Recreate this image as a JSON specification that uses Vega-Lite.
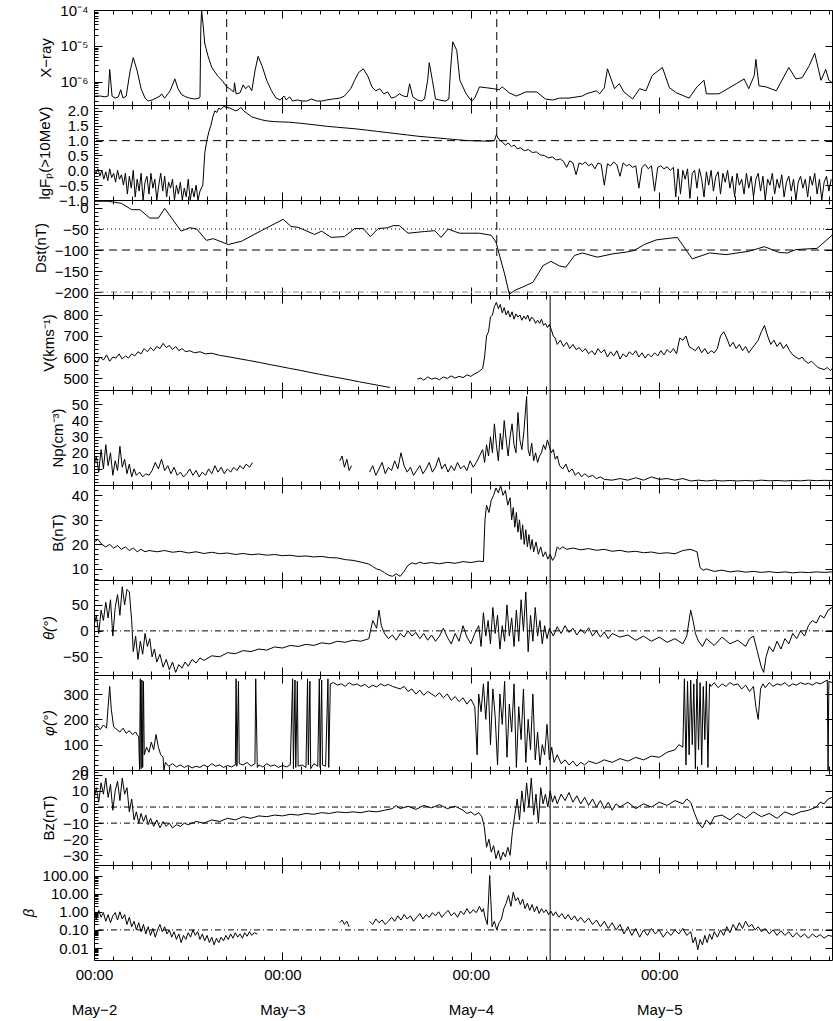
{
"$schema":"https://vega.github.io/schema/vega-lite/v6.json",
"padding":{"left":20,"top":2,"right":0,"bottom":0},
"bounds":"flush",
"config":{"view":{"stroke":"black","strokeWidth":1},
"axis":{"labelFont":"Liberation Sans","labelFontSize":15,"labelColor":"black","titleFont":"Liberation Sans","titleFontSize":15,"titleFontWeight":"normal","titleColor":"black","tickColor":"black","grid":false,"domain":false,"labelOverlap":false,"labelBound":false,"labelFlush":false,"labelPadding":14,"titlePadding":6,"minExtent":0},
"axisX":{"minExtent":0,"maxExtent":0},
"concat":{"spacing":0}},
"spacing":0,
"datasets":{
"ev":[{"t":16.9,"k":"a"},{"t":51.3,"k":"a"},{"t":58.1,"k":"b"}],
"one":[{}],
"xray":[{"t":0,"v":4e-7},{"t":0.8,"v":4e-7},{"t":1.4,"v":3.8e-7},{"t":1.8,"v":4e-7},{"t":2.0,"v":2.2e-6},{"t":2.3,"v":4e-7},{"t":2.7,"v":3.5e-7},{"t":3.1,"v":3.8e-7},{"t":3.4,"v":6e-7},{"t":3.7,"v":3.5e-7},{"t":4.1,"v":4e-7},{"t":4.6,"v":2e-6},{"t":5.0,"v":4.7e-6},{"t":5.5,"v":2e-6},{"t":6.0,"v":6.4e-7},{"t":6.5,"v":3.5e-7},{"t":6.9,"v":2.9e-7},{"t":7.4,"v":3.1e-7},{"t":7.9,"v":3.5e-7},{"t":8.4,"v":4e-7},{"t":8.6,"v":4.6e-7},{"t":9.0,"v":3.5e-7},{"t":9.7,"v":5.6e-7},{"t":10.3,"v":1.2e-6},{"t":10.7,"v":6.4e-7},{"t":11.2,"v":4.3e-7},{"t":11.7,"v":3.8e-7},{"t":12.2,"v":3.5e-7},{"t":12.8,"v":3.3e-7},{"t":13.4,"v":3.5e-7},{"t":13.5,"v":3.8e-7},{"t":13.6,"v":2.7e-5},{"t":13.7,"v":1e-4},{"t":13.9,"v":3.8e-5},{"t":14.1,"v":1.2e-5},{"t":14.5,"v":5.4e-6},{"t":15.0,"v":2.5e-6},{"t":15.8,"v":1.4e-6},{"t":16.3,"v":1.1e-6},{"t":16.9,"v":7.2e-7},{"t":17.3,"v":6.4e-7},{"t":17.8,"v":5.2e-7},{"t":17.9,"v":9.4e-7},{"t":18.1,"v":4.6e-7},{"t":18.6,"v":4.9e-7},{"t":19.0,"v":8.2e-7},{"t":19.3,"v":6.4e-7},{"t":19.7,"v":7.7e-7},{"t":20.1,"v":5.6e-7},{"t":20.5,"v":2e-6},{"t":20.9,"v":5.1e-6},{"t":21.4,"v":2.8e-6},{"t":22.0,"v":1.1e-6},{"t":22.6,"v":5.6e-7},{"t":23.2,"v":3.5e-7},{"t":23.7,"v":3.1e-7},{"t":24.2,"v":4e-7},{"t":24.5,"v":3.1e-7},{"t":24.9,"v":3.8e-7},{"t":25.3,"v":2.9e-7},{"t":25.9,"v":3.1e-7},{"t":26.5,"v":2.9e-7},{"t":27.1,"v":2.9e-7},{"t":27.7,"v":3.3e-7},{"t":28.4,"v":2.9e-7},{"t":29.0,"v":2.9e-7},{"t":29.6,"v":3.1e-7},{"t":30.4,"v":3.3e-7},{"t":31.3,"v":3.5e-7},{"t":31.9,"v":4e-7},{"t":32.7,"v":6.4e-7},{"t":33.2,"v":1.1e-6},{"t":33.7,"v":1.8e-6},{"t":34.3,"v":2.3e-6},{"t":34.9,"v":1.4e-6},{"t":35.4,"v":7.2e-7},{"t":35.9,"v":5.6e-7},{"t":36.4,"v":6.4e-7},{"t":36.9,"v":4.6e-7},{"t":37.4,"v":5.2e-7},{"t":37.9,"v":3.5e-7},{"t":38.4,"v":3.8e-7},{"t":38.9,"v":4.6e-7},{"t":39.4,"v":4e-7},{"t":39.9,"v":3.8e-7},{"t":40.2,"v":8.8e-7},{"t":40.6,"v":3.8e-7},{"t":41.2,"v":3.1e-7},{"t":41.7,"v":2.9e-7},{"t":42.1,"v":3.3e-7},{"t":42.5,"v":1.1e-6},{"t":42.7,"v":3.4e-6},{"t":43.1,"v":1.1e-6},{"t":43.5,"v":3.3e-7},{"t":44.0,"v":3.1e-7},{"t":44.8,"v":2.9e-7},{"t":45.2,"v":3.3e-7},{"t":45.4,"v":2e-6},{"t":45.7,"v":1.3e-5},{"t":46.2,"v":7.5e-6},{"t":46.6,"v":1.1e-6},{"t":47.4,"v":4.6e-7},{"t":48.1,"v":2.9e-7},{"t":48.5,"v":3.5e-7},{"t":49.1,"v":7.2e-7},{"t":50.0,"v":6.8e-7},{"t":50.9,"v":6.4e-7},{"t":51.6,"v":6e-7},{"t":52.0,"v":7.2e-7},{"t":52.9,"v":4.9e-7},{"t":53.8,"v":4e-7},{"t":55.0,"v":5.2e-7},{"t":56.4,"v":5.2e-7},{"t":57.5,"v":3.3e-7},{"t":58.4,"v":3.1e-7},{"t":59.3,"v":3.5e-7},{"t":60.5,"v":3.5e-7},{"t":62.2,"v":4e-7},{"t":62.7,"v":4.6e-7},{"t":64.0,"v":5.6e-7},{"t":64.4,"v":4.6e-7},{"t":65.0,"v":6.8e-7},{"t":65.4,"v":2.3e-6},{"t":66.3,"v":6.4e-7},{"t":66.9,"v":8.8e-7},{"t":67.5,"v":5.2e-7},{"t":68.6,"v":3.3e-7},{"t":69.5,"v":6.4e-7},{"t":70.3,"v":5.6e-7},{"t":71.1,"v":1.5e-6},{"t":72.4,"v":2.5e-6},{"t":73.3,"v":6.8e-7},{"t":74.2,"v":4.9e-7},{"t":75.8,"v":3.5e-7},{"t":76.8,"v":7.2e-7},{"t":77.7,"v":1.1e-6},{"t":78.0,"v":4.6e-7},{"t":79.6,"v":4.6e-7},{"t":81.8,"v":8.8e-7},{"t":82.8,"v":1.2e-6},{"t":83.4,"v":6.4e-7},{"t":84.1,"v":1.5e-6},{"t":84.3,"v":4.2e-6},{"t":84.7,"v":7.7e-7},{"t":85.6,"v":7.2e-7},{"t":86.9,"v":5.6e-7},{"t":88.5,"v":2.5e-6},{"t":89.4,"v":1.2e-6},{"t":90.2,"v":1.3e-6},{"t":91.1,"v":2.8e-6},{"t":91.8,"v":6.2e-6},{"t":92.6,"v":1.1e-6},{"t":93.2,"v":2.2e-6},{"t":93.6,"v":1.1e-6},{"t":94.0,"v":9.4e-7}],
"prot":[{"t":0,"v":0.0},{"t":0.25,"v":-0.1},{"t":0.5,"v":0.05},{"t":0.75,"v":-0.2},{"t":1.0,"v":0.0},{"t":1.25,"v":-0.3},{"t":1.5,"v":-0.05},{"t":1.75,"v":-0.35},{"t":2.0,"v":0.05},{"t":2.25,"v":-0.25},{"t":2.5,"v":-0.1},{"t":2.75,"v":-0.4},{"t":3.0,"v":0.0},{"t":3.25,"v":-0.3},{"t":3.5,"v":-0.15},{"t":3.75,"v":-0.5},{"t":4.0,"v":-0.1},{"t":4.25,"v":-0.8},{"t":4.5,"v":-0.2},{"t":4.75,"v":-0.6},{"t":5.0,"v":0.0},{"t":5.25,"v":-0.9},{"t":5.5,"v":-0.3},{"t":5.75,"v":-0.7},{"t":6.0,"v":-0.1},{"t":6.25,"v":-1.0},{"t":6.5,"v":-0.4},{"t":6.75,"v":-0.2},{"t":7.0,"v":-0.8},{"t":7.25,"v":-0.1},{"t":7.5,"v":-0.6},{"t":7.75,"v":-0.3},{"t":8.0,"v":-1.0},{"t":8.25,"v":-0.5},{"t":8.5,"v":-0.1},{"t":8.75,"v":-0.7},{"t":9.0,"v":-0.2},{"t":9.25,"v":-0.9},{"t":9.5,"v":-0.4},{"t":9.75,"v":-0.6},{"t":10.0,"v":-0.3},{"t":10.25,"v":-1.0},{"t":10.5,"v":-0.5},{"t":10.75,"v":-0.8},{"t":11.0,"v":-0.4},{"t":11.25,"v":-1.0},{"t":11.5,"v":-0.6},{"t":11.75,"v":-0.9},{"t":12.0,"v":-0.3},{"t":12.25,"v":-1.0},{"t":12.5,"v":-0.6},{"t":12.75,"v":-0.9},{"t":13.0,"v":-0.5},{"t":13.25,"v":-1.0},{"t":13.5,"v":-0.7},{"t":13.86,"v":-0.5},{"t":14.12,"v":0.6},{"t":14.37,"v":1.0},{"t":14.63,"v":1.3},{"t":14.88,"v":1.5},{"t":15.14,"v":1.8},{"t":15.39,"v":2.0},{"t":15.65,"v":1.95},{"t":15.9,"v":2.1},{"t":16.15,"v":2.05},{"t":16.54,"v":2.15},{"t":16.92,"v":2.12},{"t":17.3,"v":2.1},{"t":17.68,"v":2.05},{"t":18.06,"v":2.0},{"t":18.44,"v":2.05},{"t":18.7,"v":2.12},{"t":19.08,"v":2.0},{"t":19.59,"v":1.9},{"t":20.1,"v":1.8},{"t":20.61,"v":1.76},{"t":21.37,"v":1.7},{"t":22.13,"v":1.66},{"t":23.02,"v":1.64},{"t":23.91,"v":1.63},{"t":24.93,"v":1.62},{"t":25.69,"v":1.6},{"t":26.46,"v":1.58},{"t":27.48,"v":1.55},{"t":28.49,"v":1.52},{"t":29.76,"v":1.48},{"t":31.04,"v":1.45},{"t":32.31,"v":1.42},{"t":33.58,"v":1.39},{"t":34.85,"v":1.35},{"t":36.12,"v":1.31},{"t":37.4,"v":1.27},{"t":38.67,"v":1.23},{"t":39.94,"v":1.19},{"t":41.21,"v":1.15},{"t":42.48,"v":1.12},{"t":43.76,"v":1.09},{"t":45.03,"v":1.06},{"t":46.3,"v":1.03},{"t":47.57,"v":1.0},{"t":49.1,"v":0.99},{"t":50.37,"v":0.98},{"t":51.0,"v":1.0},{"t":51.26,"v":1.2},{"t":51.52,"v":1.05},{"t":52.02,"v":0.95},{"t":52.4,"v":0.85},{"t":52.78,"v":0.92},{"t":53.16,"v":0.8},{"t":53.54,"v":0.85},{"t":53.93,"v":0.72},{"t":54.31,"v":0.76},{"t":54.82,"v":0.66},{"t":55.32,"v":0.7},{"t":55.83,"v":0.6},{"t":56.34,"v":0.62},{"t":56.85,"v":0.52},{"t":57.36,"v":0.5},{"t":57.87,"v":0.42},{"t":58.38,"v":0.45},{"t":58.89,"v":0.35},{"t":59.4,"v":0.38},{"t":59.8,"v":0.3},{"t":60.2,"v":0.1},{"t":60.6,"v":0.32},{"t":61.0,"v":0.25},{"t":61.4,"v":-0.15},{"t":61.8,"v":0.25},{"t":62.2,"v":0.2},{"t":62.6,"v":0.28},{"t":63.0,"v":0.15},{"t":63.4,"v":0.22},{"t":63.8,"v":0.05},{"t":64.2,"v":0.25},{"t":64.6,"v":0.2},{"t":65.0,"v":-0.5},{"t":65.4,"v":0.22},{"t":65.8,"v":0.15},{"t":66.2,"v":0.28},{"t":66.6,"v":0.18},{"t":67.0,"v":-0.2},{"t":67.4,"v":0.25},{"t":67.8,"v":0.15},{"t":68.2,"v":0.2},{"t":68.6,"v":0.1},{"t":69.0,"v":0.15},{"t":69.4,"v":-0.6},{"t":69.8,"v":0.1},{"t":70.2,"v":0.2},{"t":70.6,"v":0.05},{"t":71.0,"v":0.15},{"t":71.4,"v":-0.7},{"t":71.8,"v":0.1},{"t":72.2,"v":0.15},{"t":72.6,"v":0.05},{"t":73.0,"v":0.12},{"t":73.4,"v":0.0},{"t":73.8,"v":0.1},{"t":74.1,"v":-0.9},{"t":74.4,"v":0.05},{"t":74.7,"v":-0.8},{"t":75.0,"v":0.0},{"t":75.3,"v":-0.3},{"t":75.6,"v":0.05},{"t":75.9,"v":-0.95},{"t":76.2,"v":-0.1},{"t":76.5,"v":0.0},{"t":76.8,"v":-0.6},{"t":77.1,"v":0.05},{"t":77.4,"v":-0.3},{"t":77.7,"v":-0.9},{"t":78.0,"v":-0.05},{"t":78.3,"v":-0.5},{"t":78.6,"v":0.0},{"t":78.9,"v":-0.7},{"t":79.2,"v":-0.2},{"t":79.5,"v":-0.05},{"t":79.8,"v":-0.8},{"t":80.1,"v":-0.1},{"t":80.4,"v":-0.4},{"t":80.7,"v":0.0},{"t":81.0,"v":-0.6},{"t":81.3,"v":-0.2},{"t":81.6,"v":-0.9},{"t":81.9,"v":-0.1},{"t":82.2,"v":-0.5},{"t":82.5,"v":-0.3},{"t":82.8,"v":-0.8},{"t":83.1,"v":-0.1},{"t":83.4,"v":-0.6},{"t":83.7,"v":-0.2},{"t":84.0,"v":-0.9},{"t":84.3,"v":-0.3},{"t":84.6,"v":-0.1},{"t":84.9,"v":-0.7},{"t":85.2,"v":-0.2},{"t":85.5,"v":-1.0},{"t":85.8,"v":-0.3},{"t":86.1,"v":-0.5},{"t":86.4,"v":-0.1},{"t":86.7,"v":-0.8},{"t":87.0,"v":-0.3},{"t":87.3,"v":-0.6},{"t":87.6,"v":-0.15},{"t":87.9,"v":-0.9},{"t":88.2,"v":-0.4},{"t":88.5,"v":-0.2},{"t":88.8,"v":-0.7},{"t":89.1,"v":-0.3},{"t":89.4,"v":-1.0},{"t":89.7,"v":-0.4},{"t":90.0,"v":-0.2},{"t":90.3,"v":-0.6},{"t":90.6,"v":-0.3},{"t":90.9,"v":-0.9},{"t":91.2,"v":-0.2},{"t":91.5,"v":-0.5},{"t":91.8,"v":-0.1},{"t":92.1,"v":-0.8},{"t":92.4,"v":-0.3},{"t":92.7,"v":-1.0},{"t":93.0,"v":-0.4},{"t":93.3,"v":-0.2},{"t":93.6,"v":-0.7},{"t":93.9,"v":-0.3}],
"dst":[{"t":0,"v":16},{"t":1.8,"v":16},{"t":3.5,"v":11},{"t":4.8,"v":-4},{"t":5.85,"v":-4},{"t":7.1,"v":-24},{"t":8.2,"v":-24},{"t":9.0,"v":-1},{"t":11.1,"v":-55},{"t":12.2,"v":-47},{"t":13.1,"v":-50},{"t":14.3,"v":-77},{"t":15.2,"v":-73},{"t":17.1,"v":-87},{"t":18.8,"v":-79},{"t":21.3,"v":-54},{"t":24.1,"v":-27},{"t":25.1,"v":-44},{"t":26.0,"v":-46},{"t":28.1,"v":-63},{"t":29.0,"v":-55},{"t":30.2,"v":-70},{"t":31.9,"v":-68},{"t":33.2,"v":-49},{"t":34.3,"v":-49},{"t":35.2,"v":-68},{"t":36.2,"v":-49},{"t":37.4,"v":-47},{"t":38.1,"v":-42},{"t":38.9,"v":-42},{"t":40.0,"v":-60},{"t":42.1,"v":-56},{"t":43.4,"v":-54},{"t":44.2,"v":-70},{"t":45.1,"v":-50},{"t":46.1,"v":-57},{"t":46.6,"v":-60},{"t":49.1,"v":-60},{"t":50.6,"v":-65},{"t":51.2,"v":-81},{"t":51.6,"v":-109},{"t":52.3,"v":-157},{"t":52.9,"v":-205},{"t":53.6,"v":-196},{"t":54.6,"v":-188},{"t":55.9,"v":-177},{"t":57.2,"v":-137},{"t":58.2,"v":-127},{"t":59.3,"v":-138},{"t":60.1,"v":-141},{"t":61.2,"v":-113},{"t":62.2,"v":-107},{"t":64.1,"v":-117},{"t":66.1,"v":-109},{"t":67.8,"v":-105},{"t":68.8,"v":-101},{"t":70.1,"v":-87},{"t":71.6,"v":-76},{"t":73.3,"v":-72},{"t":74.3,"v":-70},{"t":76.2,"v":-121},{"t":78.4,"v":-107},{"t":80.5,"v":-111},{"t":83.4,"v":-103},{"t":85.4,"v":-92},{"t":87.3,"v":-106},{"t":88.3,"v":-107},{"t":89.4,"v":-99},{"t":92.1,"v":-96},{"t":94.0,"v":-65}],
"vel":[{"s":1,"t":0,"v":590},{"s":1,"t":0.4,"v":575},{"s":1,"t":0.8,"v":600},{"s":1,"t":1.2,"v":585},{"s":1,"t":1.6,"v":610},{"s":1,"t":2.0,"v":580},{"s":1,"t":2.4,"v":600},{"s":1,"t":2.8,"v":595},{"s":1,"t":3.2,"v":615},{"s":1,"t":3.6,"v":590},{"s":1,"t":4.0,"v":605},{"s":1,"t":4.4,"v":595},{"s":1,"t":4.8,"v":615},{"s":1,"t":5.2,"v":605},{"s":1,"t":5.6,"v":625},{"s":1,"t":6.0,"v":615},{"s":1,"t":6.4,"v":640},{"s":1,"t":6.8,"v":625},{"s":1,"t":7.2,"v":645},{"s":1,"t":7.6,"v":630},{"s":1,"t":8.0,"v":650},{"s":1,"t":8.4,"v":640},{"s":1,"t":8.8,"v":665},{"s":1,"t":9.2,"v":645},{"s":1,"t":9.6,"v":655},{"s":1,"t":10.0,"v":635},{"s":1,"t":10.4,"v":650},{"s":1,"t":10.8,"v":630},{"s":1,"t":11.2,"v":640},{"s":1,"t":11.7,"v":625},{"s":1,"t":12.2,"v":630},{"s":1,"t":12.8,"v":620},{"s":1,"t":13.5,"v":625},{"s":1,"t":14.2,"v":615},{"s":1,"t":15.0,"v":618},{"s":1,"t":16.0,"v":608},{"s":1,"t":17.3,"v":600},{"s":1,"t":18.6,"v":591},{"s":1,"t":19.8,"v":583},{"s":1,"t":21.1,"v":574},{"s":1,"t":22.4,"v":564},{"s":1,"t":23.7,"v":555},{"s":1,"t":24.9,"v":546},{"s":1,"t":26.2,"v":537},{"s":1,"t":27.5,"v":527},{"s":1,"t":28.7,"v":518},{"s":1,"t":30.0,"v":509},{"s":1,"t":31.3,"v":500},{"s":1,"t":32.6,"v":491},{"s":1,"t":33.8,"v":482},{"s":1,"t":35.1,"v":473},{"s":1,"t":36.4,"v":464},{"s":1,"t":37.7,"v":455},
{"s":2,"t":41.2,"v":495},{"s":2,"t":41.6,"v":500},{"s":2,"t":42.0,"v":490},{"s":2,"t":42.5,"v":505},{"s":2,"t":43.0,"v":495},{"s":2,"t":43.5,"v":500},{"s":2,"t":44.0,"v":492},{"s":2,"t":44.5,"v":505},{"s":2,"t":45.0,"v":498},{"s":2,"t":45.5,"v":510},{"s":2,"t":46.0,"v":500},{"s":2,"t":46.5,"v":508},{"s":2,"t":47.0,"v":502},{"s":2,"t":47.5,"v":515},{"s":2,"t":48.0,"v":508},{"s":2,"t":48.5,"v":520},{"s":2,"t":49.0,"v":530},{"s":2,"t":49.5,"v":545},{"s":2,"t":49.75,"v":600},{"s":2,"t":50.0,"v":700},{"s":2,"t":50.25,"v":720},{"s":2,"t":50.5,"v":790},{"s":2,"t":50.75,"v":800},{"s":2,"t":51.0,"v":840},{"s":2,"t":51.25,"v":860},{"s":2,"t":51.5,"v":830},{"s":2,"t":51.75,"v":850},{"s":2,"t":52.0,"v":810},{"s":2,"t":52.25,"v":835},{"s":2,"t":52.5,"v":800},{"s":2,"t":52.75,"v":820},{"s":2,"t":53.0,"v":790},{"s":2,"t":53.25,"v":815},{"s":2,"t":53.5,"v":780},{"s":2,"t":53.75,"v":805},{"s":2,"t":54.0,"v":790},{"s":2,"t":54.25,"v":800},{"s":2,"t":54.5,"v":775},{"s":2,"t":54.75,"v":795},{"s":2,"t":55.0,"v":780},{"s":2,"t":55.25,"v":800},{"s":2,"t":55.5,"v":770},{"s":2,"t":55.75,"v":790},{"s":2,"t":56.0,"v":780},{"s":2,"t":56.25,"v":760},{"s":2,"t":56.5,"v":775},{"s":2,"t":56.75,"v":760},{"s":2,"t":57.0,"v":780},{"s":2,"t":57.25,"v":750},{"s":2,"t":57.5,"v":760},{"s":2,"t":57.75,"v":740},{"s":2,"t":58.0,"v":755},{"s":2,"t":58.25,"v":730},{"s":2,"t":58.5,"v":700},{"s":2,"t":58.75,"v":690},{"s":2,"t":59.0,"v":660},{"s":2,"t":59.4,"v":680},{"s":2,"t":59.8,"v":650},{"s":2,"t":60.2,"v":670},{"s":2,"t":60.6,"v":640},{"s":2,"t":61.0,"v":660},{"s":2,"t":61.4,"v":635},{"s":2,"t":61.8,"v":645},{"s":2,"t":62.2,"v":625},{"s":2,"t":62.6,"v":640},{"s":2,"t":63.0,"v":615},{"s":2,"t":63.4,"v":630},{"s":2,"t":63.8,"v":610},{"s":2,"t":64.2,"v":640},{"s":2,"t":64.6,"v":620},{"s":2,"t":65.0,"v":635},{"s":2,"t":65.4,"v":600},{"s":2,"t":65.8,"v":625},{"s":2,"t":66.2,"v":605},{"s":2,"t":66.6,"v":630},{"s":2,"t":67.0,"v":590},{"s":2,"t":67.4,"v":615},{"s":2,"t":67.8,"v":600},{"s":2,"t":68.2,"v":625},{"s":2,"t":68.6,"v":610},{"s":2,"t":69.0,"v":630},{"s":2,"t":69.4,"v":600},{"s":2,"t":69.8,"v":620},{"s":2,"t":70.2,"v":595},{"s":2,"t":70.6,"v":615},{"s":2,"t":71.0,"v":600},{"s":2,"t":71.4,"v":620},{"s":2,"t":71.8,"v":605},{"s":2,"t":72.2,"v":630},{"s":2,"t":72.6,"v":610},{"s":2,"t":73.0,"v":635},{"s":2,"t":73.4,"v":620},{"s":2,"t":73.8,"v":640},{"s":2,"t":74.2,"v":615},{"s":2,"t":74.6,"v":690},{"s":2,"t":75.0,"v":680},{"s":2,"t":75.4,"v":700},{"s":2,"t":75.8,"v":650},{"s":2,"t":76.2,"v":640},{"s":2,"t":76.6,"v":630},{"s":2,"t":77.0,"v":650},{"s":2,"t":77.4,"v":620},{"s":2,"t":77.8,"v":640},{"s":2,"t":78.2,"v":615},{"s":2,"t":78.6,"v":630},{"s":2,"t":79.0,"v":620},{"s":2,"t":79.4,"v":640},{"s":2,"t":79.8,"v":700},{"s":2,"t":80.2,"v":720},{"s":2,"t":80.6,"v":690},{"s":2,"t":81.0,"v":650},{"s":2,"t":81.4,"v":670},{"s":2,"t":81.8,"v":640},{"s":2,"t":82.2,"v":660},{"s":2,"t":82.6,"v":630},{"s":2,"t":83.0,"v":650},{"s":2,"t":83.4,"v":620},{"s":2,"t":83.8,"v":640},{"s":2,"t":84.2,"v":660},{"s":2,"t":84.6,"v":680},{"s":2,"t":85.0,"v":720},{"s":2,"t":85.4,"v":750},{"s":2,"t":85.8,"v":700},{"s":2,"t":86.2,"v":660},{"s":2,"t":86.6,"v":680},{"s":2,"t":87.0,"v":650},{"s":2,"t":87.4,"v":670},{"s":2,"t":87.8,"v":640},{"s":2,"t":88.2,"v":660},{"s":2,"t":88.6,"v":630},{"s":2,"t":89.0,"v":610},{"s":2,"t":89.4,"v":600},{"s":2,"t":89.8,"v":590},{"s":2,"t":90.2,"v":600},{"s":2,"t":90.6,"v":580},{"s":2,"t":91.0,"v":570},{"s":2,"t":91.4,"v":580},{"s":2,"t":91.8,"v":565},{"s":2,"t":92.2,"v":550},{"s":2,"t":92.6,"v":545},{"s":2,"t":93.0,"v":540},{"s":2,"t":93.4,"v":550},{"s":2,"t":93.8,"v":535},{"s":2,"t":94.0,"v":545}],
"np":[{"s":1,"t":0,"v":12},{"s":1,"t":0.3,"v":18},{"s":1,"t":0.6,"v":8},{"s":1,"t":0.9,"v":22},{"s":1,"t":1.2,"v":10},{"s":1,"t":1.5,"v":25},{"s":1,"t":1.8,"v":12},{"s":1,"t":2.1,"v":20},{"s":1,"t":2.4,"v":6},{"s":1,"t":2.7,"v":15},{"s":1,"t":3.0,"v":9},{"s":1,"t":3.3,"v":24},{"s":1,"t":3.6,"v":11},{"s":1,"t":3.9,"v":16},{"s":1,"t":4.2,"v":7},{"s":1,"t":4.5,"v":13},{"s":1,"t":4.8,"v":5},{"s":1,"t":5.1,"v":10},{"s":1,"t":5.4,"v":6},{"s":1,"t":5.8,"v":8},{"s":1,"t":6.2,"v":5},{"s":1,"t":6.6,"v":7},{"s":1,"t":7.0,"v":6},{"s":1,"t":7.4,"v":9},{"s":1,"t":7.8,"v":14},{"s":1,"t":8.2,"v":10},{"s":1,"t":8.6,"v":16},{"s":1,"t":9.0,"v":9},{"s":1,"t":9.4,"v":12},{"s":1,"t":9.8,"v":7},{"s":1,"t":10.2,"v":11},{"s":1,"t":10.6,"v":6},{"s":1,"t":11.0,"v":8},{"s":1,"t":11.4,"v":5},{"s":1,"t":11.8,"v":7},{"s":1,"t":12.2,"v":10},{"s":1,"t":12.6,"v":6},{"s":1,"t":13.0,"v":9},{"s":1,"t":13.4,"v":5},{"s":1,"t":13.8,"v":8},{"s":1,"t":14.2,"v":6},{"s":1,"t":14.6,"v":10},{"s":1,"t":15.0,"v":7},{"s":1,"t":15.4,"v":12},{"s":1,"t":15.8,"v":8},{"s":1,"t":16.2,"v":11},{"s":1,"t":16.6,"v":7},{"s":1,"t":17.0,"v":10},{"s":1,"t":17.4,"v":8},{"s":1,"t":17.8,"v":11},{"s":1,"t":18.2,"v":9},{"s":1,"t":18.6,"v":12},{"s":1,"t":19.0,"v":10},{"s":1,"t":19.4,"v":13},{"s":1,"t":19.8,"v":11},{"s":1,"t":20.2,"v":14},
{"s":2,"t":31.3,"v":15},{"s":2,"t":31.6,"v":18},{"s":2,"t":31.9,"v":11},{"s":2,"t":32.2,"v":16},{"s":2,"t":32.5,"v":9},{"s":2,"t":32.8,"v":12},
{"s":3,"t":35.1,"v":8},{"s":3,"t":35.5,"v":12},{"s":3,"t":35.9,"v":6},{"s":3,"t":36.3,"v":10},{"s":3,"t":36.7,"v":14},{"s":3,"t":37.1,"v":7},{"s":3,"t":37.5,"v":11},{"s":3,"t":37.9,"v":9},{"s":3,"t":38.3,"v":15},{"s":3,"t":38.7,"v":10},{"s":3,"t":39.1,"v":20},{"s":3,"t":39.5,"v":12},{"s":3,"t":39.9,"v":8},{"s":3,"t":40.3,"v":11},{"s":3,"t":40.7,"v":6},{"s":3,"t":41.1,"v":9},{"s":3,"t":41.5,"v":12},{"s":3,"t":41.9,"v":7},{"s":3,"t":42.3,"v":10},{"s":3,"t":42.7,"v":14},{"s":3,"t":43.1,"v":8},{"s":3,"t":43.5,"v":11},{"s":3,"t":43.9,"v":17},{"s":3,"t":44.3,"v":10},{"s":3,"t":44.7,"v":13},{"s":3,"t":45.1,"v":8},{"s":3,"t":45.5,"v":12},{"s":3,"t":45.9,"v":9},{"s":3,"t":46.3,"v":14},{"s":3,"t":46.7,"v":10},{"s":3,"t":47.1,"v":12},{"s":3,"t":47.5,"v":9},{"s":3,"t":47.9,"v":15},{"s":3,"t":48.3,"v":11},{"s":3,"t":48.7,"v":14},{"s":3,"t":49.1,"v":18},{"s":3,"t":49.5,"v":22},{"s":3,"t":49.75,"v":14},{"s":3,"t":50.0,"v":25},{"s":3,"t":50.25,"v":18},{"s":3,"t":50.5,"v":30},{"s":3,"t":50.75,"v":20},{"s":3,"t":51.0,"v":38},{"s":3,"t":51.25,"v":25},{"s":3,"t":51.5,"v":15},{"s":3,"t":51.75,"v":32},{"s":3,"t":52.0,"v":22},{"s":3,"t":52.25,"v":40},{"s":3,"t":52.5,"v":28},{"s":3,"t":52.75,"v":18},{"s":3,"t":53.0,"v":30},{"s":3,"t":53.25,"v":38},{"s":3,"t":53.5,"v":25},{"s":3,"t":53.75,"v":20},{"s":3,"t":54.0,"v":45},{"s":3,"t":54.25,"v":28},{"s":3,"t":54.5,"v":22},{"s":3,"t":54.75,"v":33},{"s":3,"t":55.1,"v":55},{"s":3,"t":55.3,"v":22},{"s":3,"t":55.5,"v":18},{"s":3,"t":55.75,"v":26},{"s":3,"t":56.0,"v":15},{"s":3,"t":56.25,"v":20},{"s":3,"t":56.5,"v":14},{"s":3,"t":56.75,"v":18},{"s":3,"t":57.0,"v":20},{"s":3,"t":57.25,"v":25},{"s":3,"t":57.5,"v":22},{"s":3,"t":57.75,"v":28},{"s":3,"t":58.0,"v":24},{"s":3,"t":58.25,"v":20},{"s":3,"t":58.5,"v":22},{"s":3,"t":58.75,"v":16},{"s":3,"t":59.0,"v":18},{"s":3,"t":59.3,"v":12},{"s":3,"t":59.7,"v":10},{"s":3,"t":60.1,"v":13},{"s":3,"t":60.5,"v":8},{"s":3,"t":60.9,"v":10},{"s":3,"t":61.3,"v":6},{"s":3,"t":61.7,"v":8},{"s":3,"t":62.1,"v":5},{"s":3,"t":62.5,"v":7},{"s":3,"t":63.0,"v":5},{"s":3,"t":63.5,"v":6},{"s":3,"t":64.0,"v":4},{"s":3,"t":64.5,"v":5},{"s":3,"t":65,"v":3.5},{"s":3,"t":66,"v":3},{"s":3,"t":67,"v":4},{"s":3,"t":68,"v":3},{"s":3,"t":69,"v":4.5},{"s":3,"t":70,"v":3},{"s":3,"t":71,"v":5},{"s":3,"t":72,"v":3.5},{"s":3,"t":73,"v":4},{"s":3,"t":74,"v":3},{"s":3,"t":75,"v":4},{"s":3,"t":76,"v":2.5},{"s":3,"t":77,"v":3},{"s":3,"t":78,"v":2.5},{"s":3,"t":79,"v":3},{"s":3,"t":80,"v":2.5},{"s":3,"t":81,"v":2.8},{"s":3,"t":82,"v":2.5},{"s":3,"t":83,"v":2.8},{"s":3,"t":84,"v":2.5},{"s":3,"t":85,"v":3},{"s":3,"t":86,"v":2.6},{"s":3,"t":87,"v":2.8},{"s":3,"t":88,"v":2.5},{"s":3,"t":89,"v":2.8},{"s":3,"t":90,"v":2.6},{"s":3,"t":91,"v":3},{"s":3,"t":92,"v":2.7},{"s":3,"t":93,"v":2.9},{"s":3,"t":94,"v":2.8}],
"bt":[{"t":0,"v":21},{"t":0.5,"v":22},{"t":1.0,"v":20},{"t":1.5,"v":19},{"t":2.0,"v":20},{"t":2.5,"v":18.5},{"t":3.0,"v":19.5},{"t":3.5,"v":18},{"t":4.0,"v":19},{"t":4.5,"v":17.5},{"t":5.0,"v":18.5},{"t":5.5,"v":17},{"t":6.0,"v":18},{"t":6.5,"v":17},{"t":7.0,"v":17.5},{"t":8.0,"v":17},{"t":9.0,"v":17.5},{"t":10.0,"v":16.8},{"t":11.0,"v":17.2},{"t":12.0,"v":16.5},{"t":13.0,"v":17},{"t":14.0,"v":16.3},{"t":15.0,"v":16.8},{"t":16.0,"v":16.2},{"t":17.0,"v":16.5},{"t":18.0,"v":15.9},{"t":19.0,"v":16.3},{"t":20.0,"v":15.8},{"t":21.0,"v":16.1},{"t":22.0,"v":15.6},{"t":23.0,"v":15.9},{"t":24.0,"v":15.4},{"t":25.0,"v":15.6},{"t":26.0,"v":15.1},{"t":27.0,"v":15.3},{"t":28.0,"v":14.9},{"t":29.0,"v":15.1},{"t":30.0,"v":14.6},{"t":31.0,"v":14.5},{"t":32.0,"v":13.8},{"t":33.0,"v":13.5},{"t":34.0,"v":12.8},{"t":35.0,"v":12.0},{"t":35.5,"v":11},{"t":36.0,"v":10},{"t":36.5,"v":9.5},{"t":37.0,"v":8.5},{"t":37.5,"v":7.5},{"t":38.0,"v":7},{"t":38.5,"v":8},{"t":39.0,"v":7},{"t":39.5,"v":9},{"t":40.0,"v":11.5},{"t":40.5,"v":12.5},{"t":41.0,"v":12},{"t":41.5,"v":12.8},{"t":42.0,"v":12.2},{"t":43.0,"v":12.6},{"t":44.0,"v":12.1},{"t":45.0,"v":12.7},{"t":46.0,"v":12.3},{"t":47.0,"v":13},{"t":48.0,"v":12.6},{"t":49.0,"v":13.2},{"t":49.6,"v":13},{"t":49.8,"v":30},{"t":50.0,"v":36},{"t":50.3,"v":33},{"t":50.6,"v":38},{"t":50.9,"v":40},{"t":51.2,"v":43},{"t":51.5,"v":41},{"t":51.8,"v":44},{"t":52.1,"v":40},{"t":52.4,"v":42},{"t":52.7,"v":36},{"t":53.0,"v":39},{"t":53.2,"v":30},{"t":53.4,"v":35},{"t":53.6,"v":27},{"t":53.8,"v":33},{"t":54.0,"v":25},{"t":54.2,"v":30},{"t":54.4,"v":22},{"t":54.6,"v":28},{"t":54.8,"v":20},{"t":55.0,"v":26},{"t":55.2,"v":19},{"t":55.4,"v":24},{"t":55.6,"v":18},{"t":55.8,"v":22},{"t":56.0,"v":17},{"t":56.3,"v":21},{"t":56.6,"v":16},{"t":56.9,"v":19},{"t":57.2,"v":15},{"t":57.5,"v":17},{"t":57.8,"v":14},{"t":58.1,"v":16},{"t":58.4,"v":13.5},{"t":58.7,"v":15},{"t":59.0,"v":19},{"t":59.3,"v":18},{"t":59.7,"v":19},{"t":60.2,"v":18},{"t":61,"v":18.5},{"t":62,"v":17.8},{"t":63,"v":18.3},{"t":64,"v":17.6},{"t":65,"v":18},{"t":66,"v":17.2},{"t":67,"v":17.6},{"t":68,"v":16.9},{"t":69,"v":17.2},{"t":70,"v":16.6},{"t":71,"v":16.9},{"t":72,"v":16.3},{"t":73,"v":16.6},{"t":74,"v":16.2},{"t":75,"v":17.5},{"t":76,"v":18},{"t":76.8,"v":17},{"t":77.2,"v":10.5},{"t":77.6,"v":9.5},{"t":78,"v":10},{"t":79,"v":9},{"t":80,"v":9.5},{"t":81,"v":8.8},{"t":82,"v":9.2},{"t":83,"v":8.7},{"t":84,"v":9},{"t":85,"v":8.6},{"t":86,"v":8.9},{"t":87,"v":8.5},{"t":88,"v":8.8},{"t":89,"v":8.4},{"t":90,"v":8.7},{"t":91,"v":8.5},{"t":92,"v":8.8},{"t":93,"v":8.6},{"t":94,"v":8.8}],
"th":[{"t":0,"v":10},{"t":0.3,"v":30},{"t":0.6,"v":-5},{"t":0.9,"v":40},{"t":1.2,"v":20},{"t":1.5,"v":55},{"t":1.8,"v":25},{"t":2.1,"v":60},{"t":2.4,"v":-10},{"t":2.7,"v":45},{"t":3.0,"v":70},{"t":3.3,"v":30},{"t":3.6,"v":85},{"t":3.9,"v":50},{"t":4.2,"v":80},{"t":4.5,"v":75},{"t":4.8,"v":20},{"t":5.0,"v":-40},{"t":5.3,"v":-10},{"t":5.6,"v":-55},{"t":5.9,"v":-20},{"t":6.2,"v":-45},{"t":6.5,"v":-5},{"t":6.8,"v":-30},{"t":7.1,"v":-15},{"t":7.4,"v":-50},{"t":7.7,"v":-35},{"t":8.0,"v":-60},{"t":8.4,"v":-45},{"t":8.8,"v":-70},{"t":9.2,"v":-55},{"t":9.6,"v":-75},{"t":10.0,"v":-60},{"t":10.4,"v":-80},{"t":10.8,"v":-65},{"t":11.2,"v":-72},{"t":11.6,"v":-60},{"t":12.0,"v":-68},{"t":12.5,"v":-55},{"t":13.0,"v":-62},{"t":13.5,"v":-52},{"t":14.0,"v":-57},{"t":15.0,"v":-48},{"t":16.0,"v":-50},{"t":17.0,"v":-42},{"t":18.0,"v":-44},{"t":19.0,"v":-38},{"t":20.0,"v":-40},{"t":21.0,"v":-35},{"t":22.0,"v":-37},{"t":23.0,"v":-31},{"t":24.0,"v":-33},{"t":25.0,"v":-28},{"t":26.0,"v":-30},{"t":27.0,"v":-26},{"t":28.0,"v":-28},{"t":29.0,"v":-23},{"t":30.0,"v":-25},{"t":31.0,"v":-20},{"t":32.0,"v":-22},{"t":33.0,"v":-18},{"t":34.0,"v":-20},{"t":35.0,"v":-15},{"t":35.5,"v":20},{"t":36.0,"v":5},{"t":36.3,"v":40},{"t":36.6,"v":10},{"t":37.0,"v":-5},{"t":37.5,"v":-15},{"t":38.0,"v":-8},{"t":38.5,"v":-18},{"t":39.0,"v":-5},{"t":39.5,"v":-12},{"t":40.0,"v":0},{"t":40.5,"v":-10},{"t":41.0,"v":-3},{"t":41.5,"v":-15},{"t":42.0,"v":-5},{"t":42.5,"v":-18},{"t":43.0,"v":-8},{"t":43.5,"v":-20},{"t":44.0,"v":-10},{"t":44.5,"v":5},{"t":45.0,"v":-12},{"t":45.5,"v":-25},{"t":46.0,"v":-5},{"t":46.5,"v":-20},{"t":47.0,"v":10},{"t":47.5,"v":-12},{"t":48.0,"v":-25},{"t":48.5,"v":-5},{"t":49.0,"v":10},{"t":49.3,"v":-30},{"t":49.6,"v":35},{"t":49.9,"v":-10},{"t":50.2,"v":20},{"t":50.5,"v":-25},{"t":50.8,"v":45},{"t":51.1,"v":-5},{"t":51.4,"v":30},{"t":51.7,"v":-35},{"t":52.0,"v":10},{"t":52.3,"v":-20},{"t":52.6,"v":50},{"t":52.9,"v":-10},{"t":53.2,"v":25},{"t":53.5,"v":-30},{"t":53.8,"v":40},{"t":54.1,"v":-20},{"t":54.4,"v":60},{"t":54.7,"v":0},{"t":55.0,"v":75},{"t":55.3,"v":-40},{"t":55.6,"v":30},{"t":55.9,"v":-20},{"t":56.2,"v":45},{"t":56.5,"v":-10},{"t":56.8,"v":20},{"t":57.1,"v":-25},{"t":57.4,"v":10},{"t":57.7,"v":-15},{"t":58.0,"v":5},{"t":58.5,"v":-10},{"t":59.0,"v":8},{"t":59.5,"v":-5},{"t":60,"v":10},{"t":60.5,"v":-3},{"t":61,"v":5},{"t":61.5,"v":-8},{"t":62,"v":3},{"t":62.5,"v":-5},{"t":63,"v":6},{"t":63.5,"v":-10},{"t":64,"v":0},{"t":64.5,"v":-12},{"t":65,"v":-2},{"t":65.5,"v":-15},{"t":66,"v":-5},{"t":67,"v":-12},{"t":68,"v":-8},{"t":69,"v":-18},{"t":70,"v":-10},{"t":71,"v":-20},{"t":72,"v":-12},{"t":73,"v":-22},{"t":74,"v":-15},{"t":75,"v":-25},{"t":75.5,"v":-10},{"t":76,"v":40},{"t":76.3,"v":20},{"t":76.6,"v":-5},{"t":77,"v":-20},{"t":77.5,"v":-30},{"t":78,"v":-15},{"t":79,"v":-28},{"t":80,"v":-12},{"t":81,"v":-25},{"t":82,"v":-18},{"t":83,"v":-30},{"t":83.5,"v":-15},{"t":84,"v":-10},{"t":84.5,"v":-40},{"t":85,"v":-70},{"t":85.3,"v":-80},{"t":85.6,"v":-50},{"t":86,"v":-30},{"t":86.5,"v":-40},{"t":87,"v":-20},{"t":87.5,"v":-35},{"t":88,"v":-15},{"t":88.5,"v":-25},{"t":89,"v":-5},{"t":89.5,"v":-15},{"t":90,"v":0},{"t":90.5,"v":-10},{"t":91,"v":10},{"t":91.5,"v":20},{"t":92,"v":15},{"t":92.5,"v":30},{"t":93,"v":25},{"t":93.5,"v":40},{"t":94,"v":45}],
"ph":[{"t":0,"v":165},{"t":0.4,"v":175},{"t":0.8,"v":160},{"t":1.2,"v":178},{"t":1.6,"v":165},{"t":1.8,"v":250},{"t":2.0,"v":330},{"t":2.2,"v":240},{"t":2.5,"v":170},{"t":2.9,"v":160},{"t":3.3,"v":150},{"t":3.7,"v":165},{"t":4.1,"v":145},{"t":4.5,"v":155},{"t":4.9,"v":140},{"t":5.3,"v":150},{"t":5.7,"v":130},{"t":5.8,"v":0},{"t":5.9,"v":360},{"t":6.0,"v":5},{"t":6.1,"v":355},{"t":6.2,"v":10},{"t":6.3,"v":350},{"t":6.4,"v":60},{"t":6.7,"v":90},{"t":7.0,"v":70},{"t":7.3,"v":110},{"t":7.6,"v":80},{"t":7.9,"v":140},{"t":8.2,"v":90},{"t":8.5,"v":60},{"t":8.8,"v":50},{"t":8.9,"v":0},{"t":9.1,"v":30},{"t":9.5,"v":15},{"t":10.0,"v":25},{"t":10.5,"v":12},{"t":11.0,"v":20},{"t":11.5,"v":10},{"t":12.0,"v":18},{"t":12.5,"v":8},{"t":13.0,"v":15},{"t":13.5,"v":10},{"t":14.0,"v":20},{"t":14.5,"v":12},{"t":15.0,"v":25},{"t":15.5,"v":15},{"t":16.0,"v":20},{"t":16.5,"v":10},{"t":17.0,"v":18},{"t":17.5,"v":12},{"t":18.0,"v":20},{"t":18.1,"v":360},{"t":18.2,"v":15},{"t":18.4,"v":350},{"t":18.5,"v":25},{"t":19.0,"v":20},{"t":19.5,"v":30},{"t":20.0,"v":15},{"t":20.5,"v":25},{"t":20.6,"v":360},{"t":20.8,"v":10},{"t":21.0,"v":20},{"t":21.5,"v":12},{"t":22.0,"v":25},{"t":22.5,"v":15},{"t":23.0,"v":20},{"t":23.5,"v":10},{"t":24.0,"v":18},{"t":24.5,"v":12},{"t":25.0,"v":20},{"t":25.3,"v":360},{"t":25.4,"v":5},{"t":25.6,"v":355},{"t":25.7,"v":10},{"t":25.9,"v":350},{"t":26.0,"v":15},{"t":26.5,"v":20},{"t":27.0,"v":10},{"t":27.2,"v":360},{"t":27.3,"v":20},{"t":27.5,"v":350},{"t":27.6,"v":5},{"t":28.0,"v":25},{"t":28.5,"v":15},{"t":28.7,"v":360},{"t":28.8,"v":10},{"t":29.0,"v":355},{"t":29.1,"v":20},{"t":29.5,"v":15},{"t":29.8,"v":360},{"t":29.9,"v":10},{"t":30.1,"v":340},{"t":30.5,"v":345},{"t":31.0,"v":335},{"t":31.5,"v":340},{"t":32.0,"v":330},{"t":32.5,"v":345},{"t":33.0,"v":335},{"t":33.5,"v":340},{"t":34.0,"v":330},{"t":34.5,"v":338},{"t":35.0,"v":325},{"t":35.5,"v":335},{"t":36.0,"v":328},{"t":36.5,"v":340},{"t":37.0,"v":332},{"t":37.5,"v":338},{"t":38.0,"v":330},{"t":38.5,"v":325},{"t":39.0,"v":320},{"t":39.5,"v":330},{"t":40.0,"v":310},{"t":40.5,"v":320},{"t":41.0,"v":300},{"t":41.5,"v":315},{"t":42.0,"v":295},{"t":42.5,"v":310},{"t":43.0,"v":300},{"t":43.5,"v":290},{"t":44.0,"v":305},{"t":44.5,"v":285},{"t":45.0,"v":300},{"t":45.5,"v":275},{"t":46.0,"v":290},{"t":46.5,"v":270},{"t":47.0,"v":285},{"t":47.5,"v":260},{"t":48.0,"v":280},{"t":48.5,"v":250},{"t":48.8,"v":60},{"t":49.0,"v":300},{"t":49.3,"v":230},{"t":49.6,"v":340},{"t":49.9,"v":200},{"t":50.2,"v":350},{"t":50.5,"v":100},{"t":50.8,"v":320},{"t":51.1,"v":210},{"t":51.4,"v":20},{"t":51.7,"v":300},{"t":52.0,"v":180},{"t":52.3,"v":350},{"t":52.6,"v":50},{"t":52.9,"v":260},{"t":53.2,"v":150},{"t":53.5,"v":340},{"t":53.8,"v":10},{"t":54.1,"v":250},{"t":54.4,"v":120},{"t":54.7,"v":320},{"t":55.0,"v":30},{"t":55.3,"v":200},{"t":55.6,"v":80},{"t":55.9,"v":300},{"t":56.2,"v":40},{"t":56.5,"v":150},{"t":56.8,"v":20},{"t":57.1,"v":100},{"t":57.4,"v":60},{"t":57.7,"v":180},{"t":58.0,"v":40},{"t":58.3,"v":90},{"t":58.6,"v":30},{"t":59.0,"v":60},{"t":59.5,"v":25},{"t":60.0,"v":40},{"t":60.5,"v":20},{"t":61.0,"v":35},{"t":61.5,"v":15},{"t":62.0,"v":30},{"t":62.5,"v":20},{"t":63.0,"v":35},{"t":64.0,"v":25},{"t":65.0,"v":40},{"t":66.0,"v":30},{"t":67.0,"v":45},{"t":68.0,"v":35},{"t":69.0,"v":50},{"t":70.0,"v":40},{"t":71.0,"v":55},{"t":72.0,"v":50},{"t":73.0,"v":70},{"t":74.0,"v":80},{"t":74.5,"v":100},{"t":75.0,"v":90},{"t":75.2,"v":360},{"t":75.4,"v":20},{"t":75.6,"v":350},{"t":75.8,"v":60},{"t":76.0,"v":355},{"t":76.2,"v":100},{"t":76.4,"v":340},{"t":76.6,"v":5},{"t":76.8,"v":360},{"t":77.0,"v":80},{"t":77.2,"v":345},{"t":77.4,"v":20},{"t":77.6,"v":330},{"t":77.8,"v":120},{"t":78.0,"v":350},{"t":78.2,"v":10},{"t":78.4,"v":340},{"t":78.6,"v":330},{"t":79.0,"v":345},{"t":79.5,"v":325},{"t":80.0,"v":340},{"t":80.5,"v":330},{"t":81.0,"v":345},{"t":81.5,"v":335},{"t":82.0,"v":340},{"t":82.5,"v":320},{"t":83.0,"v":335},{"t":83.5,"v":310},{"t":84.0,"v":330},{"t":84.3,"v":250},{"t":84.6,"v":200},{"t":84.9,"v":320},{"t":85.2,"v":340},{"t":85.5,"v":325},{"t":86.0,"v":345},{"t":86.5,"v":330},{"t":87.0,"v":340},{"t":87.5,"v":335},{"t":88.0,"v":345},{"t":88.5,"v":330},{"t":89.0,"v":340},{"t":89.5,"v":335},{"t":90.0,"v":345},{"t":90.5,"v":338},{"t":91.0,"v":342},{"t":91.5,"v":335},{"t":92.0,"v":345},{"t":92.5,"v":340},{"t":93.0,"v":348},{"t":93.4,"v":355},{"t":93.5,"v":0},{"t":93.6,"v":350},{"t":94.0,"v":345}],
"bz":[{"t":0,"v":5},{"t":0.3,"v":12},{"t":0.6,"v":3},{"t":0.9,"v":15},{"t":1.2,"v":8},{"t":1.5,"v":18},{"t":1.8,"v":6},{"t":2.1,"v":14},{"t":2.4,"v":-2},{"t":2.7,"v":10},{"t":3.0,"v":16},{"t":3.3,"v":4},{"t":3.6,"v":18},{"t":3.9,"v":8},{"t":4.2,"v":12},{"t":4.5,"v":-3},{"t":4.8,"v":5},{"t":5.1,"v":-8},{"t":5.4,"v":-3},{"t":5.7,"v":-10},{"t":6.0,"v":-4},{"t":6.3,"v":-9},{"t":6.6,"v":-5},{"t":6.9,"v":-11},{"t":7.2,"v":-7},{"t":7.6,"v":-12},{"t":8.0,"v":-8},{"t":8.4,"v":-13},{"t":8.8,"v":-9},{"t":9.2,"v":-12},{"t":9.6,"v":-10},{"t":10.0,"v":-13},{"t":10.5,"v":-11},{"t":11.0,"v":-12},{"t":11.5,"v":-10},{"t":12,"v":-11},{"t":13,"v":-9},{"t":14,"v":-10},{"t":15,"v":-8},{"t":16,"v":-9},{"t":17,"v":-7},{"t":18,"v":-8},{"t":19,"v":-6},{"t":20,"v":-7},{"t":21,"v":-5.5},{"t":22,"v":-6},{"t":23,"v":-5},{"t":24,"v":-5.5},{"t":25,"v":-4.5},{"t":26,"v":-5},{"t":27,"v":-4},{"t":28,"v":-4.5},{"t":29,"v":-3.5},{"t":30,"v":-4},{"t":31,"v":-3},{"t":32,"v":-3.5},{"t":33,"v":-3},{"t":34,"v":-3.5},{"t":35,"v":-2.5},{"t":36,"v":-3},{"t":37,"v":-2},{"t":38,"v":-1},{"t":38.5,"v":1},{"t":39,"v":-1},{"t":40,"v":0.5},{"t":41,"v":-1.5},{"t":42,"v":1},{"t":43,"v":-0.5},{"t":44,"v":1.5},{"t":45,"v":-1},{"t":46,"v":0.5},{"t":47,"v":-2},{"t":47.5,"v":-4},{"t":48,"v":-3},{"t":48.5,"v":-5},{"t":49,"v":-3.5},{"t":49.4,"v":-6},{"t":49.7,"v":-12},{"t":50.0,"v":-25},{"t":50.3,"v":-20},{"t":50.6,"v":-28},{"t":50.9,"v":-24},{"t":51.2,"v":-32},{"t":51.5,"v":-27},{"t":51.8,"v":-33},{"t":52.1,"v":-28},{"t":52.4,"v":-31},{"t":52.7,"v":-25},{"t":53.0,"v":-30},{"t":53.3,"v":-15},{"t":53.6,"v":-5},{"t":53.9,"v":5},{"t":54.2,"v":-8},{"t":54.5,"v":10},{"t":54.8,"v":-3},{"t":55.1,"v":15},{"t":55.4,"v":0},{"t":55.7,"v":18},{"t":56.0,"v":-5},{"t":56.3,"v":8},{"t":56.6,"v":-10},{"t":56.9,"v":12},{"t":57.2,"v":2},{"t":57.5,"v":8},{"t":57.8,"v":0},{"t":58.1,"v":10},{"t":58.4,"v":3},{"t":58.7,"v":7},{"t":59.0,"v":2},{"t":59.5,"v":8},{"t":60,"v":4},{"t":60.5,"v":9},{"t":61,"v":3},{"t":61.5,"v":7},{"t":62,"v":2},{"t":62.5,"v":6},{"t":63,"v":1},{"t":63.5,"v":5},{"t":64,"v":0},{"t":64.5,"v":4},{"t":65,"v":-1},{"t":65.5,"v":3},{"t":66,"v":-2},{"t":66.5,"v":2},{"t":67,"v":0},{"t":68,"v":3},{"t":69,"v":-1},{"t":70,"v":2},{"t":71,"v":0},{"t":72,"v":3},{"t":73,"v":1},{"t":74,"v":4},{"t":75,"v":2},{"t":75.5,"v":5},{"t":76,"v":3},{"t":76.5,"v":-4},{"t":77,"v":-10},{"t":77.5,"v":-13},{"t":78,"v":-8},{"t":78.5,"v":-11},{"t":79,"v":-6},{"t":80,"v":-5},{"t":81,"v":-8},{"t":82,"v":-4},{"t":83,"v":-7},{"t":84,"v":-3},{"t":85,"v":-6},{"t":86,"v":-4},{"t":87,"v":-7},{"t":88,"v":-3},{"t":89,"v":-5},{"t":90,"v":-3},{"t":91,"v":-2},{"t":92,"v":0},{"t":92.5,"v":3},{"t":93,"v":2},{"t":93.5,"v":5},{"t":94,"v":6}],
"beta":[{"s":1,"t":0,"v":0.8},{"s":1,"t":0.3,"v":0.4},{"s":1,"t":0.6,"v":1.2},{"s":1,"t":0.9,"v":0.5},{"s":1,"t":1.2,"v":0.9},{"s":1,"t":1.5,"v":0.3},{"s":1,"t":1.8,"v":0.7},{"s":1,"t":2.1,"v":0.25},{"s":1,"t":2.4,"v":0.6},{"s":1,"t":2.7,"v":0.9},{"s":1,"t":3.0,"v":0.35},{"s":1,"t":3.3,"v":1.0},{"s":1,"t":3.6,"v":0.4},{"s":1,"t":3.9,"v":0.7},{"s":1,"t":4.2,"v":0.2},{"s":1,"t":4.5,"v":0.5},{"s":1,"t":4.8,"v":0.15},{"s":1,"t":5.1,"v":0.3},{"s":1,"t":5.4,"v":0.1},{"s":1,"t":5.7,"v":0.25},{"s":1,"t":6.0,"v":0.08},{"s":1,"t":6.3,"v":0.2},{"s":1,"t":6.6,"v":0.06},{"s":1,"t":6.9,"v":0.15},{"s":1,"t":7.2,"v":0.05},{"s":1,"t":7.5,"v":0.12},{"s":1,"t":7.8,"v":0.04},{"s":1,"t":8.1,"v":0.1},{"s":1,"t":8.4,"v":0.2},{"s":1,"t":8.7,"v":0.08},{"s":1,"t":9.0,"v":0.15},{"s":1,"t":9.3,"v":0.06},{"s":1,"t":9.6,"v":0.1},{"s":1,"t":9.9,"v":0.04},{"s":1,"t":10.2,"v":0.08},{"s":1,"t":10.5,"v":0.03},{"s":1,"t":10.8,"v":0.06},{"s":1,"t":11.1,"v":0.02},{"s":1,"t":11.4,"v":0.05},{"s":1,"t":11.7,"v":0.03},{"s":1,"t":12.0,"v":0.07},{"s":1,"t":12.3,"v":0.04},{"s":1,"t":12.6,"v":0.1},{"s":1,"t":12.9,"v":0.05},{"s":1,"t":13.2,"v":0.08},{"s":1,"t":13.5,"v":0.03},{"s":1,"t":13.8,"v":0.06},{"s":1,"t":14.1,"v":0.025},{"s":1,"t":14.4,"v":0.05},{"s":1,"t":14.7,"v":0.02},{"s":1,"t":15.0,"v":0.04},{"s":1,"t":15.3,"v":0.015},{"s":1,"t":15.6,"v":0.035},{"s":1,"t":15.9,"v":0.02},{"s":1,"t":16.2,"v":0.04},{"s":1,"t":16.5,"v":0.025},{"s":1,"t":16.8,"v":0.05},{"s":1,"t":17.1,"v":0.03},{"s":1,"t":17.4,"v":0.06},{"s":1,"t":17.7,"v":0.035},{"s":1,"t":18.0,"v":0.07},{"s":1,"t":18.3,"v":0.04},{"s":1,"t":18.6,"v":0.06},{"s":1,"t":18.9,"v":0.035},{"s":1,"t":19.2,"v":0.07},{"s":1,"t":19.5,"v":0.045},{"s":1,"t":19.8,"v":0.08},{"s":1,"t":20.1,"v":0.05},{"s":1,"t":20.4,"v":0.07},{"s":1,"t":20.8,"v":0.06},
{"s":2,"t":31.3,"v":0.25},{"s":2,"t":31.6,"v":0.35},{"s":2,"t":31.9,"v":0.2},{"s":2,"t":32.2,"v":0.3},{"s":2,"t":32.5,"v":0.15},
{"s":3,"t":35.1,"v":0.3},{"s":3,"t":35.5,"v":0.2},{"s":3,"t":35.9,"v":0.4},{"s":3,"t":36.3,"v":0.25},{"s":3,"t":36.7,"v":0.35},{"s":3,"t":37.1,"v":0.2},{"s":3,"t":37.5,"v":0.3},{"s":3,"t":37.9,"v":0.5},{"s":3,"t":38.3,"v":0.3},{"s":3,"t":38.7,"v":0.6},{"s":3,"t":39.1,"v":0.35},{"s":3,"t":39.5,"v":0.7},{"s":3,"t":39.9,"v":0.4},{"s":3,"t":40.3,"v":0.6},{"s":3,"t":40.7,"v":0.3},{"s":3,"t":41.1,"v":0.5},{"s":3,"t":41.5,"v":0.8},{"s":3,"t":41.9,"v":0.4},{"s":3,"t":42.3,"v":0.7},{"s":3,"t":42.7,"v":0.5},{"s":3,"t":43.1,"v":0.9},{"s":3,"t":43.5,"v":0.6},{"s":3,"t":43.9,"v":1.0},{"s":3,"t":44.3,"v":0.5},{"s":3,"t":44.7,"v":0.8},{"s":3,"t":45.1,"v":1.2},{"s":3,"t":45.5,"v":0.6},{"s":3,"t":45.9,"v":0.9},{"s":3,"t":46.3,"v":0.5},{"s":3,"t":46.7,"v":1.1},{"s":3,"t":47.1,"v":0.7},{"s":3,"t":47.5,"v":1.5},{"s":3,"t":47.9,"v":0.8},{"s":3,"t":48.3,"v":1.3},{"s":3,"t":48.7,"v":0.9},{"s":3,"t":49.1,"v":2.0},{"s":3,"t":49.4,"v":1.0},{"s":3,"t":49.6,"v":1.5},{"s":3,"t":49.8,"v":0.5},{"s":3,"t":50.1,"v":0.2},{"s":3,"t":50.4,"v":100},{"s":3,"t":50.7,"v":0.15},{"s":3,"t":51.0,"v":0.3},{"s":3,"t":51.3,"v":0.1},{"s":3,"t":51.6,"v":0.25},{"s":3,"t":51.9,"v":0.4},{"s":3,"t":52.2,"v":1.5},{"s":3,"t":52.5,"v":3},{"s":3,"t":52.8,"v":8},{"s":3,"t":53.1,"v":2},{"s":3,"t":53.4,"v":12},{"s":3,"t":53.7,"v":4},{"s":3,"t":54.0,"v":6},{"s":3,"t":54.3,"v":2.5},{"s":3,"t":54.6,"v":5},{"s":3,"t":54.9,"v":1.5},{"s":3,"t":55.2,"v":3},{"s":3,"t":55.5,"v":1.2},{"s":3,"t":55.8,"v":2.5},{"s":3,"t":56.1,"v":1.0},{"s":3,"t":56.4,"v":2},{"s":3,"t":56.7,"v":0.8},{"s":3,"t":57.0,"v":1.5},{"s":3,"t":57.3,"v":0.9},{"s":3,"t":57.6,"v":1.3},{"s":3,"t":57.9,"v":0.7},{"s":3,"t":58.2,"v":1.1},{"s":3,"t":58.5,"v":0.6},{"s":3,"t":58.8,"v":1.0},{"s":3,"t":59.2,"v":0.5},{"s":3,"t":59.6,"v":0.8},{"s":3,"t":60.0,"v":0.4},{"s":3,"t":60.4,"v":0.7},{"s":3,"t":60.8,"v":0.35},{"s":3,"t":61.2,"v":0.6},{"s":3,"t":61.6,"v":0.3},{"s":3,"t":62.0,"v":0.5},{"s":3,"t":62.5,"v":0.25},{"s":3,"t":63.0,"v":0.45},{"s":3,"t":63.5,"v":0.2},{"s":3,"t":64.0,"v":0.35},{"s":3,"t":64.5,"v":0.15},{"s":3,"t":65.0,"v":0.3},{"s":3,"t":65.5,"v":0.12},{"s":3,"t":66.0,"v":0.25},{"s":3,"t":66.5,"v":0.1},{"s":3,"t":67.0,"v":0.2},{"s":3,"t":67.5,"v":0.06},{"s":3,"t":68.0,"v":0.15},{"s":3,"t":68.5,"v":0.05},{"s":3,"t":69.0,"v":0.12},{"s":3,"t":69.5,"v":0.04},{"s":3,"t":70.0,"v":0.1},{"s":3,"t":70.5,"v":0.05},{"s":3,"t":71.0,"v":0.12},{"s":3,"t":71.5,"v":0.06},{"s":3,"t":72.0,"v":0.1},{"s":3,"t":72.5,"v":0.04},{"s":3,"t":73.0,"v":0.08},{"s":3,"t":73.5,"v":0.05},{"s":3,"t":74.0,"v":0.1},{"s":3,"t":74.5,"v":0.06},{"s":3,"t":75.0,"v":0.12},{"s":3,"t":75.5,"v":0.05},{"s":3,"t":76.0,"v":0.08},{"s":3,"t":76.3,"v":0.02},{"s":3,"t":76.6,"v":0.04},{"s":3,"t":76.9,"v":0.008},{"s":3,"t":77.2,"v":0.03},{"s":3,"t":77.5,"v":0.015},{"s":3,"t":77.8,"v":0.05},{"s":3,"t":78.1,"v":0.02},{"s":3,"t":78.4,"v":0.06},{"s":3,"t":78.7,"v":0.03},{"s":3,"t":79.0,"v":0.08},{"s":3,"t":79.4,"v":0.04},{"s":3,"t":79.8,"v":0.1},{"s":3,"t":80.2,"v":0.05},{"s":3,"t":80.6,"v":0.15},{"s":3,"t":81.0,"v":0.07},{"s":3,"t":81.4,"v":0.2},{"s":3,"t":81.8,"v":0.1},{"s":3,"t":82.2,"v":0.25},{"s":3,"t":82.6,"v":0.12},{"s":3,"t":83.0,"v":0.3},{"s":3,"t":83.4,"v":0.15},{"s":3,"t":83.8,"v":0.2},{"s":3,"t":84.2,"v":0.1},{"s":3,"t":84.6,"v":0.15},{"s":3,"t":85.0,"v":0.08},{"s":3,"t":85.5,"v":0.12},{"s":3,"t":86.0,"v":0.06},{"s":3,"t":86.5,"v":0.1},{"s":3,"t":87.0,"v":0.05},{"s":3,"t":87.5,"v":0.09},{"s":3,"t":88.0,"v":0.05},{"s":3,"t":88.5,"v":0.08},{"s":3,"t":89.0,"v":0.04},{"s":3,"t":89.5,"v":0.07},{"s":3,"t":90.0,"v":0.04},{"s":3,"t":90.5,"v":0.06},{"s":3,"t":91.0,"v":0.035},{"s":3,"t":91.5,"v":0.06},{"s":3,"t":92.0,"v":0.04},{"s":3,"t":92.5,"v":0.055},{"s":3,"t":93.0,"v":0.035},{"s":3,"t":93.5,"v":0.05},{"s":3,"t":94.0,"v":0.045}]
},
"vconcat":[
{"width":738,"height":95,"layer":[
 {"data":{"name":"xray"},"mark":{"type":"line","color":"black","strokeWidth":1,"clip":true},
  "encoding":{"x":{"field":"t","type":"quantitative","scale":{"domain":[0,94],"nice":false,"zero":false},"axis":{"orient":"bottom","title":null,"labels":false,"values":[0,2.4,4.8,7.2,9.6,12,14.4,16.8,19.2,21.6,24,26.4,28.8,31.2,33.6,36,38.4,40.8,43.2,45.6,48,50.4,52.8,55.2,57.6,60,62.4,64.8,67.2,69.6,72,74.4,76.8,79.2,81.6,84,86.4,88.8,91.2,93.6],"tickSize":{"condition":{"test":"datum.value%24==0","value":-8},"value":-4}}},
  "y":{"field":"v","type":"quantitative","scale":{"type":"log","domain":[2.25e-7,1e-4],"nice":false},"axis":{"title":"X−ray","values":[3e-7,4e-7,5e-7,6e-7,7e-7,8e-7,9e-7,1e-6,2e-6,3e-6,4e-6,5e-6,6e-6,7e-6,8e-6,9e-6,1e-5,2e-5,3e-5,4e-5,5e-5,6e-5,7e-5,8e-5,9e-5,1e-4],"labelExpr":"datum.value==1e-4?'10⁻⁴':datum.value==1e-5?'10⁻⁵':datum.value==1e-6?'10⁻⁶':''","tickSize":{"condition":{"test":"datum.value==1e-4||datum.value==1e-5||datum.value==1e-6","value":-8},"value":-4}}}}},
 {"data":{"name":"ev"},"transform":[{"filter":"datum.k=='a'"}],"mark":{"type":"rule","color":"black","strokeDash":[8,5]},
  "encoding":{"x":{"field":"t","type":"quantitative","axis":{"orient":"top","title":null,"labels":false,"values":[0,2.4,4.8,7.2,9.6,12,14.4,16.8,19.2,21.6,24,26.4,28.8,31.2,33.6,36,38.4,40.8,43.2,45.6,48,50.4,52.8,55.2,57.6,60,62.4,64.8,67.2,69.6,72,74.4,76.8,79.2,81.6,84,86.4,88.8,91.2,93.6],"tickSize":{"condition":{"test":"datum.value%24==0","value":-8},"value":-4}}},
  "y":{"datum":2.25e-7,"type":"quantitative","axis":{"orient":"right","title":null,"labels":false,"values":[1e-6,1e-5,1e-4],"tickSize":-7}},"y2":{"datum":1e-4}}}
],"resolve":{"axis":{"x":"independent","y":"independent"}}},

{"width":738,"height":95,"layer":[
 {"data":{"name":"prot"},"mark":{"type":"line","color":"black","strokeWidth":1,"clip":true},
  "encoding":{"x":{"field":"t","type":"quantitative","scale":{"domain":[0,94],"nice":false,"zero":false},"axis":{"orient":"bottom","title":null,"labels":false,"values":[0,2.4,4.8,7.2,9.6,12,14.4,16.8,19.2,21.6,24,26.4,28.8,31.2,33.6,36,38.4,40.8,43.2,45.6,48,50.4,52.8,55.2,57.6,60,62.4,64.8,67.2,69.6,72,74.4,76.8,79.2,81.6,84,86.4,88.8,91.2,93.6],"tickSize":{"condition":{"test":"datum.value%24==0","value":-8},"value":-4}}},
  "y":{"field":"v","type":"quantitative","scale":{"domain":[-1,2.2],"nice":false,"zero":false},"axis":{"title":"lgFₚ(>10MeV)","values":[-1,-0.9,-0.8,-0.7,-0.6,-0.5,-0.4,-0.3,-0.2,-0.1,0,0.1,0.2,0.3,0.4,0.5,0.6,0.7,0.8,0.9,1,1.1,1.2,1.3,1.4,1.5,1.6,1.7,1.8,1.9,2,2.1,2.2],"labelExpr":"abs(datum.value*2-round(datum.value*2))<0.01?format(datum.value,'.1f'):''","tickSize":{"condition":{"test":"abs(datum.value*2-round(datum.value*2))<0.01","value":-8},"value":-4}}}}},
 {"data":{"name":"ev"},"transform":[{"filter":"datum.k=='a'"}],"mark":{"type":"rule","color":"black","strokeDash":[8,5]},
  "encoding":{"x":{"field":"t","type":"quantitative","axis":{"orient":"top","title":null,"labels":false,"values":[0,2.4,4.8,7.2,9.6,12,14.4,16.8,19.2,21.6,24,26.4,28.8,31.2,33.6,36,38.4,40.8,43.2,45.6,48,50.4,52.8,55.2,57.6,60,62.4,64.8,67.2,69.6,72,74.4,76.8,79.2,81.6,84,86.4,88.8,91.2,93.6],"tickSize":{"condition":{"test":"datum.value%24==0","value":-8},"value":-4}}},
  "y":{"datum":-1,"type":"quantitative","axis":{"orient":"right","title":null,"labels":false,"values":[-1,-0.5,0,0.5,1,1.5,2],"tickSize":-7}},"y2":{"datum":2.2}}},
 {"data":{"name":"one"},"mark":{"type":"rule","color":"black","strokeDash":[8,5]},"encoding":{"y":{"datum":1,"type":"quantitative","axis":null}}}
],"resolve":{"axis":{"x":"independent","y":"independent"}}},

{"width":738,"height":95,"layer":[
 {"data":{"name":"dst"},"mark":{"type":"line","color":"black","strokeWidth":1,"clip":true},
  "encoding":{"x":{"field":"t","type":"quantitative","scale":{"domain":[0,94],"nice":false,"zero":false},"axis":{"orient":"bottom","title":null,"labels":false,"values":[0,2.4,4.8,7.2,9.6,12,14.4,16.8,19.2,21.6,24,26.4,28.8,31.2,33.6,36,38.4,40.8,43.2,45.6,48,50.4,52.8,55.2,57.6,60,62.4,64.8,67.2,69.6,72,74.4,76.8,79.2,81.6,84,86.4,88.8,91.2,93.6],"tickSize":{"condition":{"test":"datum.value%24==0","value":-8},"value":-4}}},
  "y":{"field":"v","type":"quantitative","scale":{"domain":[-207,19],"nice":false,"zero":false},"axis":{"title":"Dst(nT)","values":[-200,-190,-180,-170,-160,-150,-140,-130,-120,-110,-100,-90,-80,-70,-60,-50,-40,-30,-20,-10,0,10],"labelExpr":"datum.value%50==0?format(datum.value,'d'):''","tickSize":{"condition":{"test":"datum.value%50==0","value":-8},"value":-4}}}}},
 {"data":{"name":"ev"},"transform":[{"filter":"datum.k=='a'"}],"mark":{"type":"rule","color":"black","strokeDash":[8,5]},
  "encoding":{"x":{"field":"t","type":"quantitative","axis":{"orient":"top","title":null,"labels":false,"values":[0,2.4,4.8,7.2,9.6,12,14.4,16.8,19.2,21.6,24,26.4,28.8,31.2,33.6,36,38.4,40.8,43.2,45.6,48,50.4,52.8,55.2,57.6,60,62.4,64.8,67.2,69.6,72,74.4,76.8,79.2,81.6,84,86.4,88.8,91.2,93.6],"tickSize":{"condition":{"test":"datum.value%24==0","value":-8},"value":-4}}},
  "y":{"datum":-207,"type":"quantitative","axis":{"orient":"right","title":null,"labels":false,"values":[-200,-150,-100,-50,0],"tickSize":-7}},"y2":{"datum":19}}},
 {"data":{"name":"one"},"mark":{"type":"rule","color":"black","strokeDash":[1,3]},"encoding":{"y":{"datum":-50,"type":"quantitative","axis":null}}},
 {"data":{"name":"one"},"mark":{"type":"rule","color":"black","strokeDash":[8,5]},"encoding":{"y":{"datum":-100,"type":"quantitative","axis":null}}},
 {"data":{"name":"one"},"mark":{"type":"rule","color":"#888888","strokeDash":[6,3,1,3]},"encoding":{"y":{"datum":-200,"type":"quantitative","axis":null}}}
],"resolve":{"axis":{"x":"independent","y":"independent"}}},

{"width":738,"height":95,"layer":[
 {"data":{"name":"vel"},"mark":{"type":"line","color":"black","strokeWidth":1,"clip":true},
  "encoding":{"x":{"field":"t","type":"quantitative","scale":{"domain":[0,94],"nice":false,"zero":false},"axis":{"orient":"bottom","title":null,"labels":false,"values":[0,2.4,4.8,7.2,9.6,12,14.4,16.8,19.2,21.6,24,26.4,28.8,31.2,33.6,36,38.4,40.8,43.2,45.6,48,50.4,52.8,55.2,57.6,60,62.4,64.8,67.2,69.6,72,74.4,76.8,79.2,81.6,84,86.4,88.8,91.2,93.6],"tickSize":{"condition":{"test":"datum.value%24==0","value":-8},"value":-4}}},
  "y":{"field":"v","type":"quantitative","scale":{"domain":[443,895],"nice":false,"zero":false},"axis":{"title":"V(kms⁻¹)","values":[460,480,500,520,540,560,580,600,620,640,660,680,700,720,740,760,780,800,820,840,860,880],"labelExpr":"datum.value%100==0?format(datum.value,'d'):''","tickSize":{"condition":{"test":"datum.value%100==0","value":-8},"value":-4}}},
  "detail":{"field":"s","type":"nominal"}}},
 {"data":{"name":"ev"},"transform":[{"filter":"datum.k=='b'"}],"mark":{"type":"rule","color":"black"},
  "encoding":{"x":{"field":"t","type":"quantitative","axis":{"orient":"top","title":null,"labels":false,"values":[0,2.4,4.8,7.2,9.6,12,14.4,16.8,19.2,21.6,24,26.4,28.8,31.2,33.6,36,38.4,40.8,43.2,45.6,48,50.4,52.8,55.2,57.6,60,62.4,64.8,67.2,69.6,72,74.4,76.8,79.2,81.6,84,86.4,88.8,91.2,93.6],"tickSize":{"condition":{"test":"datum.value%24==0","value":-8},"value":-4}}},
  "y":{"datum":443,"type":"quantitative","axis":{"orient":"right","title":null,"labels":false,"values":[500,600,700,800],"tickSize":-7}},"y2":{"datum":895}}}
],"resolve":{"axis":{"x":"independent","y":"independent"}}},

{"width":738,"height":95,"layer":[
 {"data":{"name":"np"},"mark":{"type":"line","color":"black","strokeWidth":1,"clip":true},
  "encoding":{"x":{"field":"t","type":"quantitative","scale":{"domain":[0,94],"nice":false,"zero":false},"axis":{"orient":"bottom","title":null,"labels":false,"values":[0,2.4,4.8,7.2,9.6,12,14.4,16.8,19.2,21.6,24,26.4,28.8,31.2,33.6,36,38.4,40.8,43.2,45.6,48,50.4,52.8,55.2,57.6,60,62.4,64.8,67.2,69.6,72,74.4,76.8,79.2,81.6,84,86.4,88.8,91.2,93.6],"tickSize":{"condition":{"test":"datum.value%24==0","value":-8},"value":-4}}},
  "y":{"field":"v","type":"quantitative","scale":{"domain":[0,59],"nice":false,"zero":false},"axis":{"title":"Np(cm⁻³)","values":[2,4,6,8,10,12,14,16,18,20,22,24,26,28,30,32,34,36,38,40,42,44,46,48,50,52,54,56,58],"labelExpr":"datum.value%10==0?format(datum.value,'d'):''","tickSize":{"condition":{"test":"datum.value%10==0","value":-8},"value":-4}}},
  "detail":{"field":"s","type":"nominal"}}},
 {"data":{"name":"ev"},"transform":[{"filter":"datum.k=='b'"}],"mark":{"type":"rule","color":"black"},
  "encoding":{"x":{"field":"t","type":"quantitative","axis":{"orient":"top","title":null,"labels":false,"values":[0,2.4,4.8,7.2,9.6,12,14.4,16.8,19.2,21.6,24,26.4,28.8,31.2,33.6,36,38.4,40.8,43.2,45.6,48,50.4,52.8,55.2,57.6,60,62.4,64.8,67.2,69.6,72,74.4,76.8,79.2,81.6,84,86.4,88.8,91.2,93.6],"tickSize":{"condition":{"test":"datum.value%24==0","value":-8},"value":-4}}},
  "y":{"datum":0,"type":"quantitative","axis":{"orient":"right","title":null,"labels":false,"values":[10,20,30,40,50],"tickSize":-7}},"y2":{"datum":59}}}
],"resolve":{"axis":{"x":"independent","y":"independent"}}},

{"width":738,"height":95,"layer":[
 {"data":{"name":"bt"},"mark":{"type":"line","color":"black","strokeWidth":1,"clip":true},
  "encoding":{"x":{"field":"t","type":"quantitative","scale":{"domain":[0,94],"nice":false,"zero":false},"axis":{"orient":"bottom","title":null,"labels":false,"values":[0,2.4,4.8,7.2,9.6,12,14.4,16.8,19.2,21.6,24,26.4,28.8,31.2,33.6,36,38.4,40.8,43.2,45.6,48,50.4,52.8,55.2,57.6,60,62.4,64.8,67.2,69.6,72,74.4,76.8,79.2,81.6,84,86.4,88.8,91.2,93.6],"tickSize":{"condition":{"test":"datum.value%24==0","value":-8},"value":-4}}},
  "y":{"field":"v","type":"quantitative","scale":{"domain":[5.5,44.2],"nice":false,"zero":false},"axis":{"title":"B(nT)","values":[6,8,10,12,14,16,18,20,22,24,26,28,30,32,34,36,38,40,42,44],"labelExpr":"datum.value%10==0?format(datum.value,'d'):''","tickSize":{"condition":{"test":"datum.value%10==0","value":-8},"value":-4}}}}},
 {"data":{"name":"ev"},"transform":[{"filter":"datum.k=='b'"}],"mark":{"type":"rule","color":"black"},
  "encoding":{"x":{"field":"t","type":"quantitative","axis":{"orient":"top","title":null,"labels":false,"values":[0,2.4,4.8,7.2,9.6,12,14.4,16.8,19.2,21.6,24,26.4,28.8,31.2,33.6,36,38.4,40.8,43.2,45.6,48,50.4,52.8,55.2,57.6,60,62.4,64.8,67.2,69.6,72,74.4,76.8,79.2,81.6,84,86.4,88.8,91.2,93.6],"tickSize":{"condition":{"test":"datum.value%24==0","value":-8},"value":-4}}},
  "y":{"datum":5.5,"type":"quantitative","axis":{"orient":"right","title":null,"labels":false,"values":[10,20,30,40],"tickSize":-7}},"y2":{"datum":44.2}}}
],"resolve":{"axis":{"x":"independent","y":"independent"}}},

{"width":738,"height":95,"layer":[
 {"data":{"name":"th"},"mark":{"type":"line","color":"black","strokeWidth":1,"clip":true},
  "encoding":{"x":{"field":"t","type":"quantitative","scale":{"domain":[0,94],"nice":false,"zero":false},"axis":{"orient":"bottom","title":null,"labels":false,"values":[0,2.4,4.8,7.2,9.6,12,14.4,16.8,19.2,21.6,24,26.4,28.8,31.2,33.6,36,38.4,40.8,43.2,45.6,48,50.4,52.8,55.2,57.6,60,62.4,64.8,67.2,69.6,72,74.4,76.8,79.2,81.6,84,86.4,88.8,91.2,93.6],"tickSize":{"condition":{"test":"datum.value%24==0","value":-8},"value":-4}}},
  "y":{"field":"v","type":"quantitative","scale":{"domain":[-85,98],"nice":false,"zero":false},"axis":{"title":"θ(°)","titleFontStyle":"italic","values":[-80,-70,-60,-50,-40,-30,-20,-10,0,10,20,30,40,50,60,70,80,90],"labelExpr":"datum.value%50==0?format(datum.value,'d'):''","tickSize":{"condition":{"test":"datum.value%50==0","value":-8},"value":-4}}}}},
 {"data":{"name":"ev"},"transform":[{"filter":"datum.k=='b'"}],"mark":{"type":"rule","color":"black"},
  "encoding":{"x":{"field":"t","type":"quantitative","axis":{"orient":"top","title":null,"labels":false,"values":[0,2.4,4.8,7.2,9.6,12,14.4,16.8,19.2,21.6,24,26.4,28.8,31.2,33.6,36,38.4,40.8,43.2,45.6,48,50.4,52.8,55.2,57.6,60,62.4,64.8,67.2,69.6,72,74.4,76.8,79.2,81.6,84,86.4,88.8,91.2,93.6],"tickSize":{"condition":{"test":"datum.value%24==0","value":-8},"value":-4}}},
  "y":{"datum":-85,"type":"quantitative","axis":{"orient":"right","title":null,"labels":false,"values":[-50,0,50],"tickSize":-7}},"y2":{"datum":98}}},
 {"data":{"name":"one"},"mark":{"type":"rule","color":"black","strokeDash":[6,3,1,3]},"encoding":{"y":{"datum":0,"type":"quantitative","axis":null}}}
],"resolve":{"axis":{"x":"independent","y":"independent"}}},

{"width":738,"height":95,"layer":[
 {"data":{"name":"ph"},"mark":{"type":"line","color":"black","strokeWidth":1,"clip":true},
  "encoding":{"x":{"field":"t","type":"quantitative","scale":{"domain":[0,94],"nice":false,"zero":false},"axis":{"orient":"bottom","title":null,"labels":false,"values":[0,2.4,4.8,7.2,9.6,12,14.4,16.8,19.2,21.6,24,26.4,28.8,31.2,33.6,36,38.4,40.8,43.2,45.6,48,50.4,52.8,55.2,57.6,60,62.4,64.8,67.2,69.6,72,74.4,76.8,79.2,81.6,84,86.4,88.8,91.2,93.6],"tickSize":{"condition":{"test":"datum.value%24==0","value":-8},"value":-4}}},
  "y":{"field":"v","type":"quantitative","scale":{"domain":[0,375],"nice":false,"zero":false},"axis":{"title":"φ(°)","titleFontStyle":"italic","values":[0,20,40,60,80,100,120,140,160,180,200,220,240,260,280,300,320,340,360],"labelExpr":"datum.value%100==0?format(datum.value,'d'):''","tickSize":{"condition":{"test":"datum.value%100==0","value":-8},"value":-4}}}}},
 {"data":{"name":"ev"},"transform":[{"filter":"datum.k=='b'"}],"mark":{"type":"rule","color":"black"},
  "encoding":{"x":{"field":"t","type":"quantitative","axis":{"orient":"top","title":null,"labels":false,"values":[0,2.4,4.8,7.2,9.6,12,14.4,16.8,19.2,21.6,24,26.4,28.8,31.2,33.6,36,38.4,40.8,43.2,45.6,48,50.4,52.8,55.2,57.6,60,62.4,64.8,67.2,69.6,72,74.4,76.8,79.2,81.6,84,86.4,88.8,91.2,93.6],"tickSize":{"condition":{"test":"datum.value%24==0","value":-8},"value":-4}}},
  "y":{"datum":0,"type":"quantitative","axis":{"orient":"right","title":null,"labels":false,"values":[0,100,200,300],"tickSize":-7}},"y2":{"datum":375}}}
],"resolve":{"axis":{"x":"independent","y":"independent"}}},

{"width":738,"height":95,"layer":[
 {"data":{"name":"bz"},"mark":{"type":"line","color":"black","strokeWidth":1,"clip":true},
  "encoding":{"x":{"field":"t","type":"quantitative","scale":{"domain":[0,94],"nice":false,"zero":false},"axis":{"orient":"bottom","title":null,"labels":false,"values":[0,2.4,4.8,7.2,9.6,12,14.4,16.8,19.2,21.6,24,26.4,28.8,31.2,33.6,36,38.4,40.8,43.2,45.6,48,50.4,52.8,55.2,57.6,60,62.4,64.8,67.2,69.6,72,74.4,76.8,79.2,81.6,84,86.4,88.8,91.2,93.6],"tickSize":{"condition":{"test":"datum.value%24==0","value":-8},"value":-4}}},
  "y":{"field":"v","type":"quantitative","scale":{"domain":[-36,23],"nice":false,"zero":false},"axis":{"title":"Bz(nT)","values":[-34,-32,-30,-28,-26,-24,-22,-20,-18,-16,-14,-12,-10,-8,-6,-4,-2,0,2,4,6,8,10,12,14,16,18,20,22],"labelExpr":"datum.value%10==0?format(datum.value,'d'):''","tickSize":{"condition":{"test":"datum.value%10==0","value":-8},"value":-4}}}}},
 {"data":{"name":"ev"},"transform":[{"filter":"datum.k=='b'"}],"mark":{"type":"rule","color":"black"},
  "encoding":{"x":{"field":"t","type":"quantitative","axis":{"orient":"top","title":null,"labels":false,"values":[0,2.4,4.8,7.2,9.6,12,14.4,16.8,19.2,21.6,24,26.4,28.8,31.2,33.6,36,38.4,40.8,43.2,45.6,48,50.4,52.8,55.2,57.6,60,62.4,64.8,67.2,69.6,72,74.4,76.8,79.2,81.6,84,86.4,88.8,91.2,93.6],"tickSize":{"condition":{"test":"datum.value%24==0","value":-8},"value":-4}}},
  "y":{"datum":-36,"type":"quantitative","axis":{"orient":"right","title":null,"labels":false,"values":[-30,-20,-10,0,10,20],"tickSize":-7}},"y2":{"datum":23}}},
 {"data":{"name":"one"},"mark":{"type":"rule","color":"black","strokeDash":[6,3,1,3]},"encoding":{"y":{"datum":0,"type":"quantitative","axis":null}}},
 {"data":{"name":"one"},"mark":{"type":"rule","color":"black","strokeDash":[6,3,1,3]},"encoding":{"y":{"datum":-10,"type":"quantitative","axis":null}}}
],"resolve":{"axis":{"x":"independent","y":"independent"}}},

{"width":738,"height":95,"layer":[
 {"data":{"name":"beta"},"mark":{"type":"line","color":"black","strokeWidth":1,"clip":true},
  "encoding":{"x":{"field":"t","type":"quantitative","scale":{"domain":[0,94],"nice":false,"zero":false},"axis":{"orient":"bottom","title":null,"minExtent":0,"maxExtent":60,"values":[0,2.4,4.8,7.2,9.6,12,14.4,16.8,19.2,21.6,24,26.4,28.8,31.2,33.6,36,38.4,40.8,43.2,45.6,48,50.4,52.8,55.2,57.6,60,62.4,64.8,67.2,69.6,72,74.4,76.8,79.2,81.6,84,86.4,88.8,91.2,93.6],"tickSize":{"condition":{"test":"datum.value%24==0","value":-8},"value":-4},"labelExpr":"datum.value%24==0?['00:00','May−'+(2+datum.value/24)]:''","labelPadding":15,"labelLineHeight":35,"labelFontSize":15}},
  "y":{"field":"v","type":"quantitative","scale":{"type":"log","domain":[0.0022,380],"nice":false},"axis":{"title":"β","titleFontStyle":"italic","values":[0.003,0.004,0.005,0.006,0.007,0.008,0.009,0.01,0.02,0.03,0.04,0.05,0.06,0.07,0.08,0.09,0.1,0.2,0.3,0.4,0.5,0.6,0.7,0.8,0.9,1,2,3,4,5,6,7,8,9,10,20,30,40,50,60,70,80,90,100,200,300],"labelExpr":"(datum.value==0.01||datum.value==0.1||datum.value==1||datum.value==10||datum.value==100)?format(datum.value,'.2f'):''","tickSize":{"condition":{"test":"datum.value==0.01||datum.value==0.1||datum.value==1||datum.value==10||datum.value==100","value":-8},"value":-4}}},
  "detail":{"field":"s","type":"nominal"}}},
 {"data":{"name":"ev"},"transform":[{"filter":"datum.k=='b'"}],"mark":{"type":"rule","color":"black"},
  "encoding":{"x":{"field":"t","type":"quantitative","axis":{"orient":"top","title":null,"labels":false,"values":[0,2.4,4.8,7.2,9.6,12,14.4,16.8,19.2,21.6,24,26.4,28.8,31.2,33.6,36,38.4,40.8,43.2,45.6,48,50.4,52.8,55.2,57.6,60,62.4,64.8,67.2,69.6,72,74.4,76.8,79.2,81.6,84,86.4,88.8,91.2,93.6],"tickSize":{"condition":{"test":"datum.value%24==0","value":-8},"value":-4}}},
  "y":{"datum":0.0022,"type":"quantitative","axis":{"orient":"right","title":null,"labels":false,"values":[0.01,0.1,1,10,100],"tickSize":-7}},"y2":{"datum":380}}},
 {"data":{"name":"one"},"mark":{"type":"rule","color":"black","strokeDash":[6,3,1,3]},"encoding":{"y":{"datum":0.1,"type":"quantitative","axis":null}}}
],"resolve":{"axis":{"x":"independent","y":"independent"}}}
]
}
